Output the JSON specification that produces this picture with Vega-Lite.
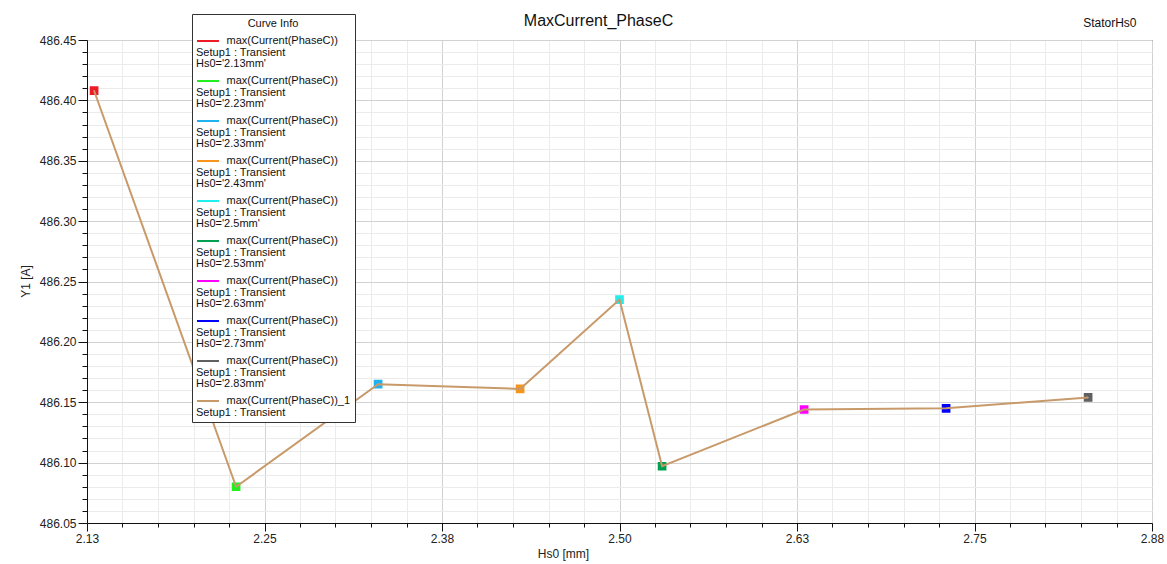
{
  "$schema": "https://vega.github.io/schema/vega-lite/v6.json",
  "width": 1065,
  "height": 483,
  "autosize": {"type": "none"},
  "padding": {"left": 87, "top": 40, "right": 15, "bottom": 41},
  "background": "white",
  "config": {
    "font": "Liberation Sans",
    "view": {"stroke": "#222", "strokeWidth": 1},
    "style": {"guide-label": {"dy": -6, "lineHeight": 11.5}},
    "axis": {"labelFont": "Liberation Sans", "titleFont": "Liberation Sans", "labelColor": "#222", "titleColor": "#222", "titleFontWeight": "normal", "domainColor": "#111", "tickColor": "#111"}
  },
  "data": {
    "values": [
      {"hs0": 2.13, "y": 486.408, "series": "2.13"},
      {"hs0": 2.23, "y": 486.080, "series": "2.23"},
      {"hs0": 2.33, "y": 486.165, "series": "2.33"},
      {"hs0": 2.43, "y": 486.161, "series": "2.43"},
      {"hs0": 2.5, "y": 486.235, "series": "2.5"},
      {"hs0": 2.53, "y": 486.097, "series": "2.53"},
      {"hs0": 2.63, "y": 486.144, "series": "2.63"},
      {"hs0": 2.73, "y": 486.145, "series": "2.73"},
      {"hs0": 2.83, "y": 486.154, "series": "2.83"}
    ]
  },
  "resolve": {"axis": {"x": "independent", "y": "independent"}},
  "layer": [
    {
      "mark": {"type": "point", "shape": "square", "filled": false, "opacity": 1, "size": 22, "strokeWidth": 4},
      "encoding": {
        "x": {"field": "hs0", "type": "quantitative", "scale": {"domain": [2.125, 2.875], "nice": false, "zero": false},
          "axis": {"orient": "top", "title": "MaxCurrent_PhaseC", "titleFontSize": 16, "titleColor": "#111", "titleX": 511, "titleY": -20, "titleBaseline": "middle", "titleAlign": "center", "titleAnchor": null, "domain": false, "ticks": false, "labels": false, "grid": false}},
        "y": {"field": "y", "type": "quantitative", "scale": {"domain": [486.05, 486.45], "nice": false, "zero": false},
          "axis": {"orient": "right", "title": "StatorHs0", "titleAngle": 0, "titleFontSize": 12, "titleColor": "#111", "titleX": -16, "titleY": -18, "titleAlign": "right", "titleBaseline": "middle", "titleAnchor": null, "domain": false, "ticks": false, "labels": false, "grid": false}},
        "color": {
          "field": "series", "type": "nominal",
          "scale": {
            "domain": ["2.13", "2.23", "2.33", "2.43", "2.5", "2.53", "2.63", "2.73", "2.83", "_1"],
            "range": ["#ed1c24", "#22ee22", "#1fb2ee", "#f7941d", "#22eeee", "#00a050", "#ff00ff", "#0000ff", "#606060", "#c89a6a"]
          },
          "legend": {
            "orient": "none", "legendX": 105, "legendY": -26,
            "title": "Curve Info", "titleFont": "Liberation Sans", "titleFontSize": 11, "titleFontWeight": "normal", "titleColor": "#111", "titleAnchor": "middle", "titlePadding": 0,
            "symbolType": "stroke", "symbolSize": 484, "symbolStrokeWidth": 2,
            "labelFont": "Liberation Sans", "labelFontSize": 11, "labelColor": "#111", "labelBaseline": "top", "labelOffset": -24, "labelLimit": 400,
            "labelExpr": "datum.value == '_1' ? ['\u200b\u00a0\u00a0\u00a0\u00a0\u00a0\u00a0\u00a0\u00a0\u00a0\u00a0max(Current(PhaseC))_1', 'Setup1 : Transient'] : ['\u200b\u00a0\u00a0\u00a0\u00a0\u00a0\u00a0\u00a0\u00a0\u00a0\u00a0max(Current(PhaseC))', 'Setup1 : Transient', 'Hs0=\\'' + datum.value + 'mm\\'']",
            "fillColor": "white", "strokeColor": "#333", "padding": 4, "rowPadding": 0
          }
        }
      }
    },
    {
      "mark": {"type": "line", "color": "#c89a6a", "strokeWidth": 2},
      "encoding": {
        "x": {"field": "hs0", "type": "quantitative",
          "axis": {
            "orient": "bottom", "title": "Hs0 [mm]", "titleFontSize": 12, "titleX": 476, "titleY": 30, "titleBaseline": "middle", "titleAnchor": null,
            "values": [2.125, 2.15, 2.175, 2.2, 2.225, 2.25, 2.275, 2.3, 2.325, 2.35, 2.375, 2.4, 2.425, 2.45, 2.475, 2.5, 2.525, 2.55, 2.575, 2.6, 2.625, 2.65, 2.675, 2.7, 2.725, 2.75, 2.775, 2.8, 2.825, 2.85, 2.875],
            "labelExpr": "abs(datum.value*8 - round(datum.value*8)) < 0.01 ? format(datum.value, '.2f') : ''",
            "labelOverlap": false, "labelFlush": false, "labelFontSize": 12, "labelPadding": 8,
            "tickSize": {"condition": {"test": "abs(datum.value*8 - round(datum.value*8)) < 0.01", "value": 8}, "value": 4},
            "grid": true,
            "gridColor": {"condition": {"test": "abs(datum.value*8 - round(datum.value*8)) < 0.01", "value": "#d2d2d2"}, "value": "#ebebeb"}
          }},
        "y": {"field": "y", "type": "quantitative",
          "axis": {
            "orient": "left", "title": "Y1 [A]", "titleFontSize": 12, "titleX": -62, "titleY": 241, "titleAngle": -90, "titleBaseline": "middle", "titleAlign": "center", "titleAnchor": null,
            "values": [486.05, 486.06, 486.07, 486.08, 486.09, 486.1, 486.11, 486.12, 486.13, 486.14, 486.15, 486.16, 486.17, 486.18, 486.19, 486.2, 486.21, 486.22, 486.23, 486.24, 486.25, 486.26, 486.27, 486.28, 486.29, 486.3, 486.31, 486.32, 486.33, 486.34, 486.35, 486.36, 486.37, 486.38, 486.39, 486.4, 486.41, 486.42, 486.43, 486.44, 486.45],
            "labelExpr": "abs(datum.value*20 - round(datum.value*20)) < 0.01 ? format(datum.value, '.2f') : ''",
            "labelOverlap": false, "labelFlush": false, "labelFontSize": 12, "labelPadding": 2, "labelOffset": 6,
            "tickSize": {"condition": {"test": "abs(datum.value*20 - round(datum.value*20)) < 0.01", "value": 9}, "value": 5},
            "grid": true,
            "gridColor": {"condition": {"test": "abs(datum.value*20 - round(datum.value*20)) < 0.01", "value": "#d2d2d2"}, "value": "#ebebeb"}
          }}
      }
    }
  ]
}
